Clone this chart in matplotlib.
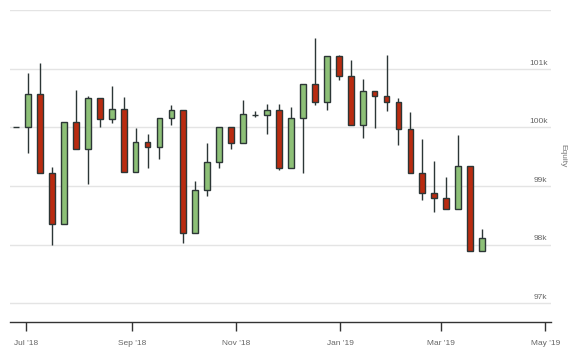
import numpy as np
import pandas as pd
import matplotlib
matplotlib.use("Agg")
import matplotlib.pyplot as plt
import matplotlib.dates as mdates

plt.rcParams['font.family'] = ['Liberation Sans', 'DejaVu Sans']

# weekly equity candles
dates = pd.date_range('2018-06-25', periods=40, freq='7D')
opens = [100000, 100000, 100566, 99229, 98354, 100086, 99640, 100497, 100137, 100309,
         99246, 99760, 99674, 100154, 100291, 98200, 98937, 99417, 100000, 99743,
         100211, 100206, 100291, 99314, 100154, 100737, 100429, 101217, 100874, 100034,
         100617, 100531, 100429, 99977, 99229, 98886, 98800, 98611, 99349, 97891]
closes = [100000, 100566, 99229, 98354, 100086, 99640, 100497, 100137, 100309, 99246,
          99760, 99674, 100154, 100291, 98200, 98937, 99417, 100000, 99743, 100223,
          100211, 100291, 99314, 100154, 100737, 100429, 101217, 100874, 100034, 100617,
          100531, 100429, 99977, 99229, 98886, 98800, 98611, 99349, 97891, 98114]
highs = [100000, 100931, 101103, 99320, 100086, 100640, 100537, 100497, 100709, 100520,
         99989, 99897, 100154, 100383, 100291, 99080, 99731, 100000, 100000, 100469,
         100280, 100400, 100400, 100349, 100737, 101531, 101217, 101240, 101154, 100829,
         100617, 101240, 100497, 100263, 99800, 99423, 99149, 99869, 99349, 98274]
lows = [100000, 99566, 99229, 98000, 98354, 99640, 99034, 100011, 100080, 99246,
        99246, 99314, 99463, 100046, 98023, 98200, 98829, 99309, 99634, 99743,
        100171, 99891, 99274, 99314, 99223, 100389, 100297, 100811, 100034, 99823,
        99994, 100286, 99703, 99229, 98760, 98554, 98611, 98611, 97891, 97891]

y_ticks = [97000, 98000, 99000, 100000, 101000]
y_labels = ['97k', '98k', '99k', '100k', '101k']

up_col = '#8dc077'
down_col = '#b92b10'
edge_col = '#2c3636'

fig = plt.figure(figsize=(5.8, 3.6), dpi=100)
ax = fig.add_axes([10 / 580, 1 - 322.3 / 360, 540.7 / 580, 312 / 360])

x = mdates.date2num(dates)
o = np.array(opens)
c = np.array(closes)
colors = [up_col if cc > oo else down_col for oo, cc in zip(o, c)]

ax.vlines(x, lows, highs, color=edge_col, linewidth=1, zorder=2)
ax.bar(x, np.abs(c - o), bottom=np.minimum(o, c), width=3.4, color=colors,
       edgecolor=edge_col, linewidth=1, zorder=3)

x0 = mdates.date2num(pd.Timestamp('2018-07-01'))
x1 = mdates.date2num(pd.Timestamp('2019-05-01'))
ax.set_xlim(x0 - 9.55, x1 + 3.16)
ax.set_ylim(96675, 102000)

# grid
for v in y_ticks + [102000]:
    ax.axhline(v, color='#e4e4e4', linewidth=1, zorder=0)
for v, lab in zip(y_ticks, y_labels):
    ax.annotate(lab, xy=(1, v), xycoords=('axes fraction', 'data'),
                xytext=(-2.3, 1.6), textcoords='offset points',
                ha='right', va='bottom', fontsize=6, color='#666666')
ax.set_yticks([])

ax.xaxis.set_major_locator(mdates.MonthLocator(bymonth=[1, 3, 5, 7, 9, 11]))
ax.xaxis.set_major_formatter(mdates.DateFormatter("%b '%y"))
ax.tick_params(axis='x', direction='out', length=6.5, width=1, color='#333333',
               labelsize=6, labelcolor='#666666', pad=6)

for s in ['top', 'left', 'right']:
    ax.spines[s].set_visible(False)
ax.spines['bottom'].set_color('#333333')
ax.spines['bottom'].set_linewidth(1)

fig.text(563 / 580, 1 - 156 / 360, 'Equity', rotation=-90, ha='center', va='center',
         fontsize=6, color='#777777')

fig.savefig('out.png', dpi=100)
